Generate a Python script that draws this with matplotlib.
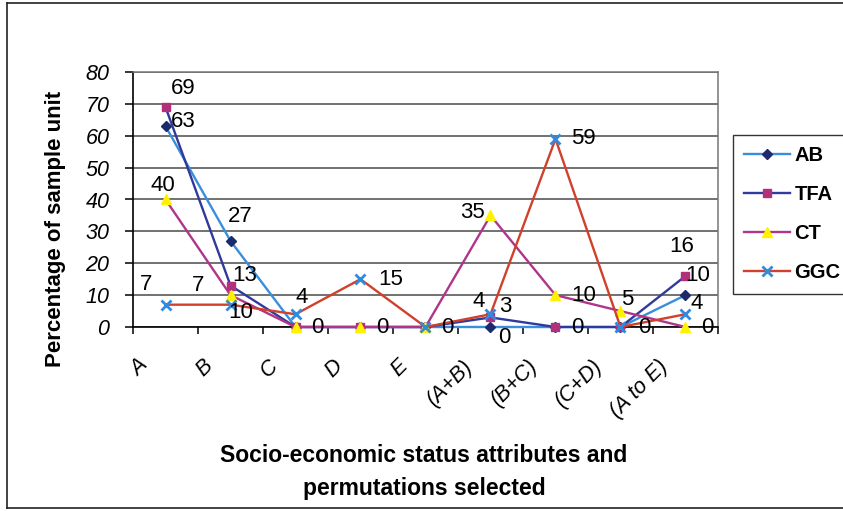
import matplotlib
matplotlib.use("Agg")
import matplotlib.pyplot as plt
from matplotlib.lines import Line2D
from matplotlib.transforms import ScaledTranslation

# ---- data -------------------------------------------------------------
categories = ["A", "B", "C", "D", "E", "(A+B)", "(B+C)", "(C+D)", "(A to E)"]
ab = [63, 27, 0, 0, 0, 0, 0, 0, 10]
tfa = [69, 13, 0, 0, 0, 3, 0, 0, 16]
ct = [40, 10, 0, 0, 0, 35, 10, 5, 0]
ggc = [7, 7, 4, 15, 0, 4, 59, 0, 4]
y_ticks = [0, 10, 20, 30, 40, 50, 60, 70, 80]

series_names = ["AB", "TFA", "CT", "GGC"]
series_values = {"AB": ab, "TFA": tfa, "CT": ct, "GGC": ggc}

# ---- styling ----------------------------------------------------------
styles = {
    "AB": dict(color="#3a8ede", marker="D", mfc="#1c2a6e", mec="#1c2a6e", ms=5.5),
    "TFA": dict(color="#2f3a9c", marker="s", mfc="#b0307a", mec="#b0307a", ms=6),
    "CT": dict(color="#b0358a", marker="^", mfc="#fff200", mec="#fff200", ms=7),
    "GGC": dict(color="#d0402a", marker="x", mfc="#2e8be0", mec="#2e8be0", ms=7, mew=2),
}

# data labels: (series, category index, dx px, dy px, horizontal alignment)
label_spec = [
    ("TFA", 0, 18, -19, "center"), ("AB", 0, 18, -5, "center"),
    ("CT", 0, -3, -14, "center"), ("GGC", 0, -19, -20, "center"),
    ("AB", 1, 10, -24, "center"), ("TFA", 1, 14, -10, "center"),
    ("CT", 1, 10, 17, "center"), ("GGC", 1, -32, -19, "center"),
    ("GGC", 2, 6, -17, "center"), ("CT", 2, 16, 0, "left"),
    ("GGC", 3, 18, 0, "left"), ("CT", 3, 16, 0, "left"),
    ("GGC", 4, 16, 0, "left"),
    ("CT", 5, -18, -3, "center"), ("GGC", 5, -12, -13, "center"),
    ("TFA", 5, 15, -11, "center"), ("AB", 5, 14, 10, "center"),
    ("GGC", 6, 16, 0, "left"), ("CT", 6, 16, 0, "left"),
    ("TFA", 6, 16, 0, "left"),
    ("CT", 7, 7, -12, "center"), ("AB", 7, 18, 0, "left"),
    ("TFA", 8, -4, -30, "center"), ("AB", 8, 12, -20, "center"),
    ("GGC", 8, 11, -11, "center"), ("CT", 8, 16, 0, "left"),
]

plt.rcParams["font.family"] = ["Liberation Sans", "DejaVu Sans"]

W, H = 843, 511
fig = plt.figure(figsize=(W / 100, H / 100), dpi=100)
fig.patch.set_facecolor("white")

# plot area in pixel coordinates
left, right, top, bottom = 133, 718, 72, 327
ax = fig.add_axes([left / W, 1 - bottom / H, (right - left) / W, (bottom - top) / H])

x = list(range(len(categories)))
lines = []
for name in series_names:
    st = styles[name]
    (ln,) = ax.plot(
        x, series_values[name], color=st["color"], lw=1.7,
        marker=st["marker"], markerfacecolor=st["mfc"], markeredgecolor=st["mec"],
        markersize=st["ms"], markeredgewidth=st.get("mew", 1.0),
        label=name, clip_on=False, zorder=3,
    )
    lines.append(ln)

# data labels
for name, i, dx, dy, ha in label_spec:
    v = series_values[name][i]
    ax.annotate(
        f"{v}", xy=(i, v), xytext=(dx * 0.72, -dy * 0.72), textcoords="offset points",
        ha=ha, va="center", fontsize=16, color="black", zorder=5,
        annotation_clip=False,
    )

# axes
ax.set_xlim(-0.5, len(categories) - 0.5)
ax.set_ylim(0, 80)
ax.set_yticks(y_ticks)
ax.set_yticklabels([str(t) for t in y_ticks], fontsize=15.5, fontstyle="italic")
ax.yaxis.grid(True, color="#4a4a4a", lw=1.1)
ax.set_axisbelow(True)
ax.tick_params(axis="y", direction="out", length=6, width=1.1, pad=11, colors="black")

ax.set_xticks(x)
ax.set_xticks([i - 0.5 for i in range(len(categories) + 1)], minor=True)
ax.tick_params(axis="x", which="major", length=0, pad=0)
ax.tick_params(axis="x", which="minor", direction="out", length=5, width=1.1, color="black")
ax.set_xticklabels(categories, fontsize=15.5, fontstyle="italic", rotation=45,
                   ha="right", va="center", rotation_mode="anchor")
shift = ScaledTranslation(-21 / 100, -36 / 100, fig.dpi_scale_trans)
for lbl in ax.get_xticklabels():
    lbl.set_transform(lbl.get_transform() + shift)

for side in ("left", "bottom"):
    ax.spines[side].set_color("black")
    ax.spines[side].set_linewidth(1.2)
for side in ("top", "right"):
    ax.spines[side].set_color("#777777")
    ax.spines[side].set_linewidth(1.1)

# axis titles
fig.text(55 / W, 1 - 229 / H, "Percentage of sample unit", rotation=90,
         ha="center", va="center", fontsize=16, fontweight="bold")
fig.text(424 / W, 1 - 472 / H, "Socio-economic status attributes and\npermutations selected",
         ha="center", va="center", fontsize=16.5, fontweight="bold", linespacing=1.55)

# legend
leg = fig.legend(
    handles=lines, labels=series_names, loc="upper left",
    bbox_to_anchor=(733 / W, 1 - 135 / H, 0.3, 0.0), mode="expand",
    bbox_transform=fig.transFigure, frameon=True, fancybox=False, shadow=False,
    borderaxespad=0, borderpad=0.55, labelspacing=1.0, handlelength=2.3,
    handletextpad=0.2, prop=dict(size=14.5, weight="bold"),
)
leg.get_frame().set_edgecolor("black")
leg.get_frame().set_linewidth(1.0)

# outer chart border
bc = "#222222"
for xs, ys in (
    ([7, 7], [3, 508]),
    ([7, W + 5], [3, 3]),
    ([7, W + 5], [508, 508]),
):
    fig.add_artist(Line2D([v / W for v in xs], [1 - v / H for v in ys],
                          transform=fig.transFigure, color=bc, lw=1.2))

fig.savefig("out.png", dpi=100)
